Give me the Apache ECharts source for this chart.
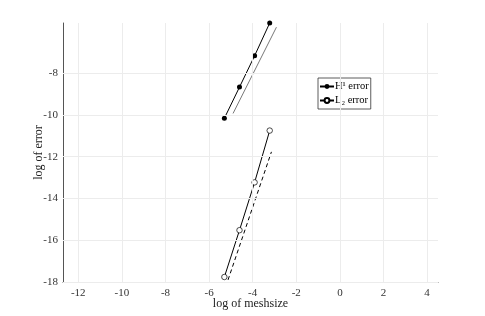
<!DOCTYPE html>
<html>
<head>
<meta charset="utf-8">
<script src="https://cdn.jsdelivr.net/npm/echarts@6/dist/echarts.min.js"></script>
<style>html,body{margin:0;padding:0;background:#fff}#c{width:485px;height:316px}</style>
</head>
<body>
<div id="c"></div>
<script>
// log of meshsize (h = 1/200, 1/100, 1/50, 1/25)
var logH = [-5.2983, -4.6052, -3.9120, -3.2189];
var h1Err = [-10.16, -8.67, -7.17, -5.60];
var l2Err = [-17.76, -15.52, -13.23, -10.75];
// reference slope lines
var h1RefX = [-4.90, -2.91];
var h1RefY = [-9.93, -5.80];
var l2RefX = [-5.13, -3.14];
var l2RefY = [-17.90, -11.77];
// ticks
var xTicks = [-12, -10, -8, -6, -4, -2, 0, 2, 4];
var yTicks = [-18, -16, -14, -12, -10, -8];
var xMin = -12.7, xMax = 4.5, yMin = -18, yMax = -5.6;

function zip(a, b) { return a.map(function (v, i) { return [v, b[i]]; }); }

var font = 'Liberation Serif';
var gridLines = [];
xTicks.forEach(function (v) { gridLines.push({ xAxis: v }); });
yTicks.forEach(function (v) { gridLines.push({ yAxis: v }); });

var chart = echarts.init(document.getElementById('c'), null, { renderer: 'canvas' });
chart.setOption({
  animation: false,
  backgroundColor: '#fff',
  grid: { left: 63, right: 47, top: 23, bottom: 34, containLabel: false, outerBoundsMode: 'none' },
  legend: {
    orient: 'vertical',
    left: 318, top: 78,
    data: ['H\u00B9 error', 'L\u2082 error'],
    itemWidth: 14, itemHeight: 6, itemGap: 3,
    padding: [3, 2, 3, 1],
    borderColor: '#333', borderWidth: 0.8,
    backgroundColor: '#fff',
    textStyle: { fontFamily: font, fontSize: 10.5, color: '#000', padding: [0, 0, 0, -4] }
  },
  xAxis: {
    type: 'value', min: xMin, max: xMax,
    name: 'log of meshsize', nameLocation: 'middle', nameGap: 16, nameMoveOverlap: false,
    nameTextStyle: { fontFamily: font, fontSize: 12, color: '#222' },
    axisLine: { show: true, onZero: false, lineStyle: { color: '#555', width: 1 } },
    axisTick: { show: true, inside: true, length: 3, customValues: xTicks, lineStyle: { color: '#555' } },
    axisLabel: { customValues: xTicks, fontFamily: font, fontSize: 11, color: '#333', margin: 6 },
    splitLine: { show: false }
  },
  yAxis: {
    type: 'value', min: yMin, max: yMax,
    name: 'log of error', nameLocation: 'middle', nameGap: 18, nameRotate: 90, nameMoveOverlap: false,
    nameTextStyle: { fontFamily: font, fontSize: 12, color: '#222' },
    axisLine: { show: true, onZero: false, lineStyle: { color: '#555', width: 1 } },
    axisTick: { show: true, inside: true, length: 3, customValues: yTicks, lineStyle: { color: '#555' } },
    axisLabel: { customValues: yTicks, fontFamily: font, fontSize: 11, color: '#333', margin: 5 },
    splitLine: { show: false }
  },
  series: [
    {
      name: 'grid', type: 'line', data: [], silent: true,
      markLine: {
        silent: true, symbol: 'none', label: { show: false },
        lineStyle: { color: '#ececec', width: 1, type: 'solid' },
        data: gridLines
      }
    },
    {
      name: 'H\u00B9 error', type: 'line', data: zip(logH, h1Err),
      symbol: 'circle', symbolSize: 5,
      lineStyle: { color: '#000', width: 1 }, itemStyle: { color: '#000' }
    },
    {
      name: 'L\u2082 error', type: 'line', data: zip(logH, l2Err),
      symbol: 'circle', symbolSize: 5.5,
      lineStyle: { color: '#000', width: 1 }, itemStyle: { color: '#fff', borderColor: '#000', borderWidth: 0.7 }
    },
    {
      name: 'h1ref', type: 'line', data: zip(h1RefX, h1RefY), symbol: 'none',
      lineStyle: { color: '#555', width: 0.8 }
    },
    {
      name: 'l2ref', type: 'line', data: zip(l2RefX, l2RefY), symbol: 'none',
      lineStyle: { color: '#000', width: 1, type: [4, 3] }
    }
  ]
});
</script>
</body>
</html>
